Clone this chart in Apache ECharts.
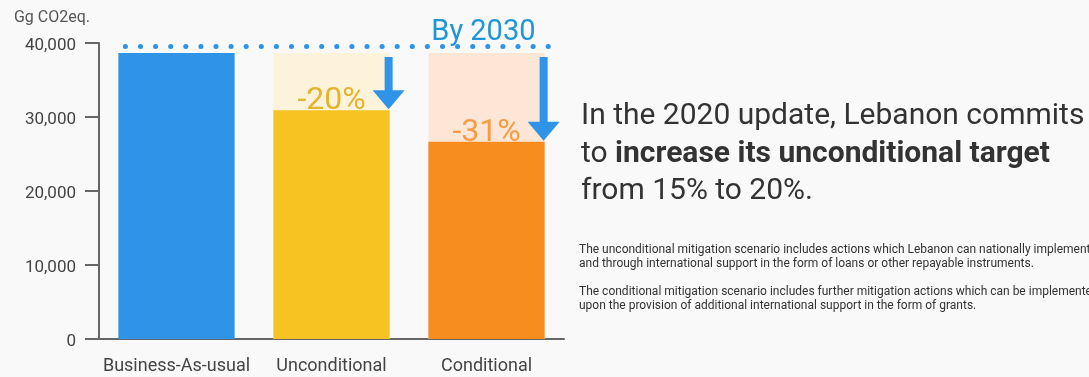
<!DOCTYPE html>
<html>
<head>
<meta charset="utf-8">
<script src="https://cdn.jsdelivr.net/npm/echarts@6/dist/echarts.min.js"></script>
<style>
  html, body { margin: 0; padding: 0; background: #f8f9f8; }
  #chart { width: 1089px; height: 377px; }
</style>
</head>
<body>
<div id="chart"></div>
<script>
// Lebanon NDC 2030 emission scenarios (Gg CO2eq.)
const categories = ['Business-As-usual', 'Unconditional', 'Conditional'];
const bauValue = 38650;
const scenarioValues = [null, 30920, 26670];
const reductionLabels = ['', '-20%', '-31%'];
const targetLevel = 39500;
const yTicks = [0, 10000, 20000, 30000, 40000];

const BLUE = '#2f93e8';
const barColors = [BLUE, '#f6c322', '#f78c1f'];
const shadeColors = [BLUE, '#fdf2da', '#fde6d6'];
const labelColors = ['#000', '#e3b42c', '#f69c43'];
const FONT = 'Roboto';

const chart = echarts.init(document.getElementById('chart'), null, { renderer: 'canvas' });

// Arrow from the BAU level down to each scenario's level, drawn at the bar's right edge
const arrowData = scenarioValues
  .map((v, i) => (v == null ? null : [i, bauValue, v]))
  .filter(Boolean);

function renderArrow(params, api) {
  const idx = api.value(0);
  const start = api.coord([idx, api.value(1)]);
  const end = api.coord([idx, api.value(2)]);
  const band = api.size([1, 0])[0];
  const x = start[0] + band * 0.375 - 1;
  const y0 = start[1] + 4;
  const y1 = end[1] - 1;
  const headH = 19, headW = 16, shaftW = 4;
  return {
    type: 'group',
    children: [
      { type: 'rect', shape: { x: x - shaftW, y: y0, width: shaftW * 2, height: y1 - headH - y0 + 1 }, style: { fill: BLUE } },
      { type: 'polygon', shape: { points: [[x - headW, y1 - headH], [x + headW, y1 - headH], [x, y1]] }, style: { fill: BLUE } }
    ]
  };
}

const option = {
  backgroundColor: '#f8f9f8',
  animation: false,
  textStyle: { fontFamily: FONT },
  grid: { left: 99, right: 525, top: 43, bottom: 38, containLabel: false },
  xAxis: [
    {
      type: 'category',
      data: categories,
      axisLine: { onZero: false, lineStyle: { color: '#666', width: 2 } },
      axisTick: { alignWithLabel: true, interval: 0, length: 14, lineStyle: { color: '#666', width: 2 } },
      axisLabel: { color: '#444', fontSize: 18, margin: 18, interval: 0, fontFamily: FONT }
    },
    { type: 'value', min: -0.5, max: 2.5, show: false }
  ],
  yAxis: {
    type: 'value',
    min: yTicks[0],
    max: yTicks[yTicks.length - 1],
    interval: yTicks[1] - yTicks[0],
    name: 'Gg CO2eq.',
    nameLocation: 'end',
    nameGap: 17,
    nameTextStyle: { color: '#555', fontSize: 16, align: 'right', padding: [0, 9, 0, 0], fontFamily: FONT },
    axisLine: { show: true, onZero: false, lineStyle: { color: '#666', width: 2 } },
    axisTick: { show: true, length: 14, lineStyle: { color: '#666', width: 2 } },
    splitLine: { show: false },
    axisLabel: {
      color: '#444', margin: 23,
      formatter: (v) => '{t|' + v.toLocaleString('en-US') + '}',
      rich: {
        t: { color: '#444', fontSize: 17, fontFamily: FONT, padding: [6, 0, 0, 0] }
      }
    }
  },
  series: [
    {
      name: 'BAU level',
      type: 'bar',
      barWidth: '75%',
      z: 1,
      silent: true,
      data: categories.map((c, i) => ({ value: bauValue, itemStyle: { color: shadeColors[i] } }))
    },
    {
      name: 'Scenario',
      type: 'bar',
      barWidth: '75%',
      barGap: '-100%',
      z: 2,
      data: scenarioValues.map((v, i) => (v == null ? '-' : {
        value: v,
        itemStyle: { color: barColors[i] },
        label: { color: labelColors[i] }
      })),
      label: {
        show: true,
        position: 'top',
        distance: -7,
        fontSize: 32,
        fontFamily: FONT,
        formatter: (p) => reductionLabels[p.dataIndex]
      }
    },
    {
      name: 'Reduction',
      type: 'custom',
      z: 3,
      renderItem: renderArrow,
      encode: { x: 0, y: [1, 2] },
      data: arrowData
    },
    {
      name: 'Target year',
      type: 'line',
      xAxisIndex: 1,
      data: [],
      markLine: {
        silent: true,
        symbol: ['none', 'none'],
        lineStyle: { color: BLUE, width: 5, type: [0.1, 15], cap: 'round' },
        label: {
          show: true,
          position: 'insideEndTop',
          formatter: 'By 2030',
          color: '#2196d6',
          fontSize: 29,
          fontFamily: FONT,
          distance: [13, -1]
        },
        data: [[{ coord: [-0.33, targetLevel] }, { coord: [2.4, targetLevel] }]]
      }
    }
  ],
  graphic: [
    {
      type: 'text',
      left: 581,
      top: 98,
      style: {
        text: 'In the 2020 update, Lebanon commits\nto {b|increase its unconditional target}\nfrom 15% to 20%.',
        fill: '#333',
        fontSize: 30,
        fontFamily: FONT,
        lineHeight: 37.5,
        rich: {
          b: { fontWeight: 'bold', fontSize: 30, fontFamily: FONT, lineHeight: 37.5, fill: '#333' }
        }
      }
    },
    {
      type: 'text',
      left: 579,
      top: 243,
      style: {
        text: 'The unconditional mitigation scenario includes actions which Lebanon can nationally implement\nand through international support in the form of loans or other repayable instruments.',
        fill: '#333',
        fontSize: 12,
        fontFamily: FONT,
        lineHeight: 14
      }
    },
    {
      type: 'text',
      left: 579,
      top: 285,
      style: {
        text: 'The conditional mitigation scenario includes further mitigation actions which can be implemented\nupon the provision of additional international support in the form of grants.',
        fill: '#333',
        fontSize: 12,
        fontFamily: FONT,
        lineHeight: 14
      }
    }
  ]
};

chart.setOption(option);
</script>
</body>
</html>
